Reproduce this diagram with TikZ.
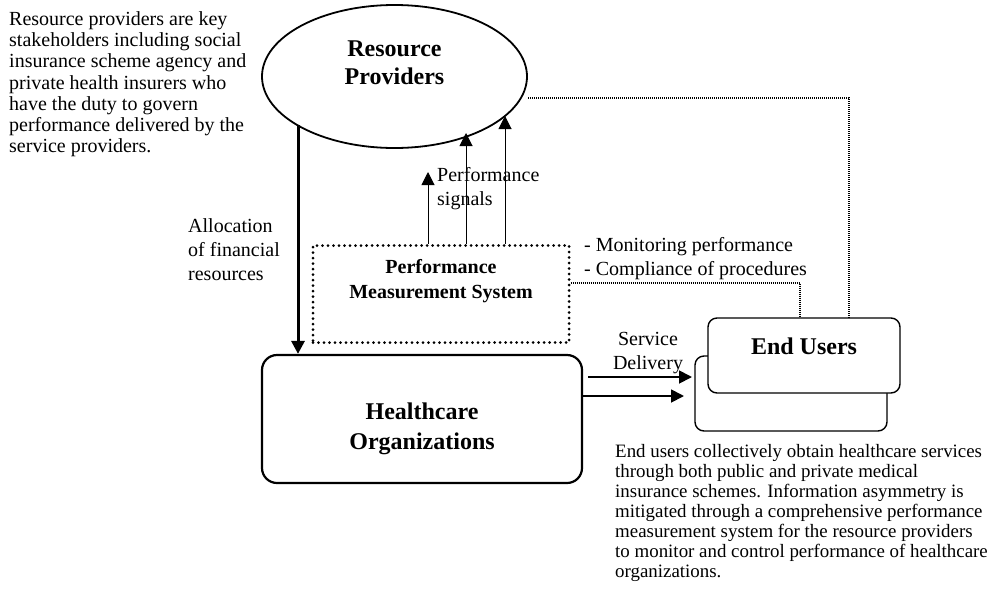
\documentclass[tikz,border=0pt]{standalone}
\usepackage{fontspec}
\setmainfont{Liberation Serif}
\usetikzlibrary{shapes.geometric,arrows.meta,positioning}
\newcommand{\labelfont}{\fontsize{20}{24}\selectfont}
\tikzset{provider/.style={ellipse,draw,line width=1.8pt,minimum width=265pt,minimum height=143pt},
orgbox/.style={rectangle,draw,line width=2.2pt,rounded corners=15pt,minimum width=320pt,minimum height=128pt},
pmsbox/.style={rectangle,draw,line width=3pt,dash pattern=on 0pt off 5.5pt,line cap=round,minimum width=256pt,minimum height=97pt},
userbox/.style={rectangle,draw,fill=white,line width=1.4pt,rounded corners=9pt,minimum width=192pt,minimum height=75pt},
title/.style={align=center,inner sep=0pt,font=\fontsize{24}{28}\selectfont\bfseries},
note/.style={align=left,inner sep=0pt},
tag/.style={align=left,inner sep=0pt,font=\labelfont},
alloc/.style={-{Triangle[length=13pt,width=13pt]},line width=3pt},
flow/.style={-{Triangle[length=13pt,width=13pt]},line width=1.8pt},
sig/.style={-{Triangle[length=13pt,width=13pt]},line width=1pt},
link/.style={line width=1.4pt,dash pattern=on 1pt off 1pt}}
\begin{document}
\begin{tikzpicture}[x=1pt,y=-1pt]
  \useasboundingbox (0,0) rectangle (998,592);
  % actors
  \node (provider) [provider] at (394.5,76.5) {};
  \node (providertext) [title] at (394.5,63) {Resource\\Providers};
  \node (org) [orgbox] at (422,419) {};
  \node (orgtext) [title,font=\fontsize{24}{30}\selectfont\bfseries] at (422,429) {Healthcare\\Organizations};
  \node (pms) [pmsbox] at (441,294) {};
  \node (pmstext) [title,font=\fontsize{20}{25}\selectfont\bfseries] at (441,281) {Performance\\Measurement System};
  \node (usersback) [userbox] at (791,393.5) {};
  \node (users) [userbox] at (804,355.5) {};
  \node (userstext) [title] at (804,346) {End Users};

  % free ends
  \coordinate (alloctop) at (298,125);
  \coordinate (sig1) at (428,172);
  \coordinate (sig2) at (466,133);
  \coordinate (sig3) at (505,116);
  \coordinate (sd1) at (588,377);
  \coordinate (sd1e) at (692,377);
  \coordinate (sd2e) at (684,396);
  \coordinate (pmslink) at (800,283);
  \coordinate (provlink) at (528,98);
  \coordinate (provcorner) at (849,98);

  \draw [alloc] (alloctop) -- (alloctop |- org.north);
  \draw [sig] (sig1 |- pms.north) -- (sig1);
  \draw [sig] (sig2 |- pms.north) -- (sig2);
  \draw [sig] (sig3 |- pms.north) -- (sig3);
  \draw [flow] (sd1) -- (sd1e);
  \draw [flow] (org.east |- sd2e) -- (sd2e);
  \draw [link] (pms.east |- pmslink) -- (pmslink) -- (pmslink |- users.north);
  \draw [link] (provlink) -- (provcorner) -- (provcorner |- users.north);

  % texts
  \node (providernote) [note,font=\fontsize{20}{21.2}\selectfont,anchor=north west] at (9,11.5) {Resource providers are key\\stakeholders including social\\insurance scheme agency and\\private health insurers who\\have the duty to govern\\performance delivered by the\\service providers.};
  \node (alloclabel) [tag,anchor=north west] at (188,218) {Allocation\\of financial\\resources};
  \node (siglabel) [tag,anchor=north west] at (437,167) {Performance\\signals};
  \node (pmslabel) [tag,anchor=north west] at (584,237) {- Monitoring performance\\- Compliance of procedures};
  \node (sdlabel) [tag,align=center,anchor=north] at (648,332) {Service\\Delivery};
  \node (usersnote) [note,font=\fontsize{18.9}{20}\selectfont,anchor=north west] at (615,444) {End users collectively obtain healthcare services\\through both public and private medical\\insurance schemes. Information asymmetry is\\mitigated through a comprehensive performance\\measurement system for the resource providers\\to monitor and control performance of healthcare\\organizations.};
\end{tikzpicture}
\end{document}
